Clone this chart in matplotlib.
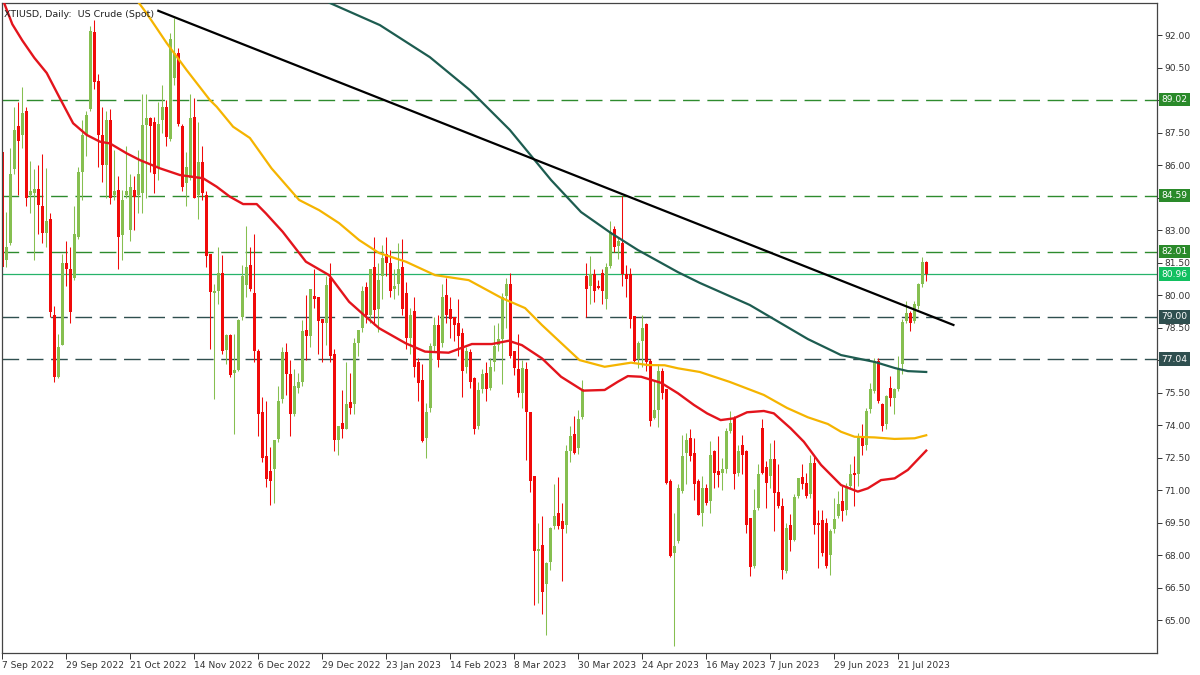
import numpy as np
import matplotlib
matplotlib.use("Agg")
import matplotlib.pyplot as plt
import matplotlib.transforms as mtransforms

# daily candles, XTIUSD, 7 Sep 2022 .. 1 Aug 2023
opens = [86.6, 81.6, 82.4, 85.8, 87.8, 87.4, 88.5, 84.6, 84.7, 84.9,
         84.1, 82.85, 83.5, 79.1, 76.2, 77.7, 81.5, 81.2, 80.8, 82.7,
         85.7, 87.4, 88.6, 92.15, 89.9, 87.4, 86.0, 88.1, 84.6, 84.85,
         82.75, 84.6, 83.0, 84.85, 84.6, 84.7, 87.85, 88.15, 88.0, 85.85,
         88.1, 88.7, 87.2, 90.0, 91.15, 87.8, 85.15, 85.4, 88.2, 84.6,
         86.15, 84.6, 81.9, 80.1, 80.2, 81.0, 77.45, 78.15, 76.4, 76.55,
         79.0, 80.45, 81.4, 80.1, 77.4, 74.6, 72.55, 71.9, 71.97, 73.35,
         75.2, 77.35, 76.35, 74.5, 75.7, 75.97, 78.4, 78.1, 79.97, 79.9,
         78.9, 78.7, 80.8, 77.3, 73.3, 74.1, 73.8, 75.05, 74.97, 77.8,
         78.5, 80.35, 79.1, 81.3, 79.35, 80.9, 81.9, 81.5, 80.3, 80.5,
         81.3, 80.1, 78.0, 79.27, 76.9, 76.07, 73.4, 74.8, 77.65, 78.6,
         77.8, 80.0, 79.35, 79.0, 78.7, 78.27, 76.7, 77.35, 76.15, 73.96,
         75.65, 76.4, 75.7, 76.9, 77.7, 77.96, 79.96, 80.5, 77.4, 76.6,
         75.5, 76.6, 74.6, 71.65, 68.2, 68.46, 66.65, 67.7, 69.34, 69.95,
         69.57, 69.4, 72.8, 73.6, 72.95, 74.38, 80.88, 80.4, 80.96, 80.42,
         81.0, 79.8, 81.34, 83.03, 82.26, 82.4, 80.96, 80.96, 79.03, 77.03,
         77.9, 78.65, 76.96, 74.34, 74.7, 76.5, 75.65, 71.4, 68.1, 68.64,
         70.95, 72.7, 73.4, 72.7, 71.41, 69.95, 71.1, 70.5, 72.8, 71.87,
         71.8, 71.95, 73.72, 74.33, 71.8, 73.1, 72.8, 69.7, 67.49, 70.18,
         73.87, 72.06, 71.64, 72.45, 70.9, 70.26, 67.26, 69.41, 68.7, 70.72,
         71.6, 71.33, 70.8, 72.23, 69.5, 69.6, 69.5, 68.0, 69.2, 69.8,
         70.5, 70.1, 71.18, 71.77, 71.72, 73.49, 73.1, 74.72, 75.57, 76.95,
         74.95, 74.03, 75.72, 75.26, 75.65, 76.8, 78.8, 79.15, 78.8, 79.49,
         80.49, 81.52]
highs = [86.6, 83.85, 86.8, 88.7, 88.9, 89.6, 88.7, 86.2, 85.8, 86.0,
         86.5, 85.85, 83.8, 79.5, 78.2, 81.9, 82.5, 82.2, 84.1, 85.9,
         88.1, 88.5, 92.4, 92.7, 90.2, 88.7, 88.5, 88.6, 86.7, 85.5,
         84.85, 86.9, 85.6, 85.5, 86.7, 89.3, 89.3, 88.2, 88.2, 88.9,
         89.7, 89.0, 92.1, 92.8, 91.4, 87.9, 86.6, 89.3, 89.1, 88.0,
         86.9, 84.8, 81.9, 80.5, 82.2, 81.85, 78.2, 78.2, 78.2, 78.9,
         81.4, 83.2, 82.2, 82.8, 77.5, 75.3, 75.1, 72.97, 73.3, 75.8,
         77.6, 77.8, 77.0, 76.6, 76.4, 78.85, 80.0, 80.3, 81.2, 79.9,
         78.9, 80.9, 81.5, 77.5, 73.97, 75.6, 76.9, 76.4, 78.0, 78.4,
         80.4, 80.6, 81.2, 82.7, 81.5, 82.3, 82.7, 82.1, 81.2, 82.4,
         82.6, 80.6, 79.4, 79.9, 77.1, 76.8, 75.0, 77.8, 79.0, 79.1,
         80.5, 80.8, 79.9, 79.0, 79.8, 78.5, 77.6, 77.5, 76.2, 76.0,
         76.6, 76.9, 77.1, 78.6, 78.7, 80.1, 80.8, 81.0, 77.4, 78.2,
         77.0, 76.9, 74.6, 71.65, 69.5, 69.8, 67.7, 69.3, 71.3, 71.6,
         70.4, 73.1, 73.96, 74.4, 74.7, 76.1, 81.5, 81.8, 81.2, 80.7,
         81.2, 81.5, 83.4, 83.2, 82.7, 84.57, 81.4, 81.26, 79.03, 77.9,
         79.1, 78.7, 77.03, 76.1, 76.8, 76.65, 75.65, 71.5, 69.95, 71.26,
         73.56, 73.64, 73.8, 73.41, 71.49, 71.64, 71.26, 73.26, 72.87, 73.49,
         72.5, 73.87, 74.67, 74.41, 73.1, 73.56, 72.87, 69.7, 71.03, 72.18,
         74.3, 72.33, 73.18, 73.33, 72.18, 70.64, 69.49, 69.9, 70.8, 71.56,
         72.18, 71.8, 72.64, 72.57, 70.1, 70.1, 69.7, 69.2, 70.65, 70.95,
         71.18, 71.34, 72.18, 72.57, 73.64, 74.03, 74.8, 75.95, 77.1, 77.1,
         75.03, 75.41, 76.26, 75.72, 77.18, 78.88, 79.72, 79.26, 79.72, 80.57,
         81.77, 81.57]
lows = [81.3, 81.3, 82.3, 85.6, 84.6, 86.8, 84.1, 83.8, 81.6, 82.8,
        82.4, 82.2, 79.0, 76.0, 76.15, 77.7, 80.4, 78.7, 80.7, 82.6,
        84.4, 86.4, 88.5, 89.5, 85.9, 85.2, 84.5, 84.2, 84.4, 81.2,
        81.6, 84.5, 82.5, 83.0, 83.8, 83.8, 84.5, 85.7, 84.7, 85.3,
        87.5, 86.9, 87.1, 89.7, 87.8, 84.8, 84.1, 85.3, 84.5, 83.5,
        84.4, 81.3, 77.5, 75.2, 79.6, 77.3, 76.8, 76.2, 73.6, 76.5,
        78.85, 79.9, 80.2, 76.9, 73.5, 72.3, 71.15, 70.3, 70.4, 73.2,
        75.0, 75.4, 73.5, 74.4, 75.5, 75.8, 77.0, 77.6, 79.4, 77.3,
        76.9, 77.7, 76.9, 72.8, 72.6, 73.4, 73.8, 74.5, 74.5, 77.2,
        78.3, 78.7, 78.7, 78.6, 78.3, 79.8, 80.9, 79.9, 79.8, 80.0,
        79.1, 77.5, 77.3, 76.2, 75.1, 73.2, 72.5, 74.6, 77.4, 76.7,
        77.6, 78.7, 78.0, 77.9, 77.2, 75.3, 76.4, 75.7, 73.6, 73.8,
        75.5, 75.1, 75.6, 76.5, 77.4, 75.9, 78.5, 77.1, 76.3, 75.3,
        74.8, 72.4, 70.9, 65.7, 65.8, 65.3, 64.3, 67.3, 69.2, 69.2,
        66.8, 69.0, 72.3, 72.65, 72.65, 74.26, 79.0, 79.6, 79.7, 80.26,
        79.6, 79.34, 81.26, 82.0, 81.65, 80.4, 79.9, 78.5, 76.9, 76.65,
        76.7, 76.5, 73.96, 74.3, 73.9, 75.2, 71.26, 67.9, 63.8, 68.56,
        70.87, 71.26, 72.33, 70.56, 69.87, 69.33, 70.33, 69.95, 71.1, 71.13,
        71.0, 71.8, 73.64, 71.03, 71.64, 71.72, 69.03, 67.03, 67.41, 70.1,
        71.72, 70.18, 71.1, 69.1, 70.18, 66.9, 67.18, 68.18, 68.64, 70.64,
        71.03, 70.64, 70.64, 68.95, 67.4, 67.97, 67.4, 67.1, 69.03, 69.72,
        69.57, 69.87, 71.1, 70.26, 71.18, 72.64, 72.87, 74.57, 75.49, 75.03,
        73.72, 73.8, 74.87, 74.49, 75.57, 76.34, 78.72, 78.34, 78.72, 79.34,
        80.38, 80.65]
closes = [81.3, 82.2, 85.6, 87.6, 87.1, 88.4, 84.5, 84.8, 84.9, 84.15,
          82.85, 83.4, 79.2, 76.2, 77.6, 81.5, 81.2, 79.2, 82.8, 85.7,
          87.4, 88.3, 92.2, 89.85, 87.4, 86.0, 88.1, 84.5, 84.8, 82.7,
          84.4, 84.8, 85.0, 84.54, 85.6, 87.85, 88.15, 87.8, 85.6, 87.9,
          88.7, 87.3, 91.8, 91.15, 87.9, 85.0, 85.9, 88.15, 84.5, 86.15,
          84.7, 81.8, 80.15, 80.2, 81.0, 77.4, 78.15, 76.3, 76.55, 78.85,
          80.9, 81.3, 80.3, 77.4, 74.5, 72.5, 71.5, 71.4, 73.3, 75.1,
          77.35, 76.35, 74.5, 75.8, 75.97, 78.35, 78.1, 80.3, 79.8, 78.8,
          78.7, 80.46, 77.2, 73.3, 73.97, 73.8, 74.97, 74.8, 77.8, 78.4,
          80.2, 79.1, 81.2, 79.3, 80.7, 81.7, 81.5, 80.2, 80.4, 81.2,
          79.35, 78.0, 79.1, 76.7, 75.96, 73.27, 74.6, 77.65, 78.6, 77.0,
          79.9, 79.1, 78.9, 78.6, 78.1, 76.5, 77.4, 76.0, 73.8, 75.6,
          76.35, 75.65, 76.7, 77.65, 77.96, 79.9, 80.5, 77.2, 76.65, 75.5,
          76.65, 74.6, 71.4, 68.2, 68.3, 66.3, 67.65, 69.26, 69.8, 69.34,
          69.2, 72.8, 73.5, 72.7, 74.26, 75.65, 80.26, 80.96, 80.2, 80.34,
          80.2, 81.3, 82.9, 82.2, 82.5, 80.96, 80.73, 78.9, 76.96, 77.8,
          78.5, 76.9, 74.2, 74.7, 76.5, 75.5, 71.34, 67.96, 68.4, 71.1,
          72.56, 73.33, 72.56, 71.26, 69.87, 71.1, 70.41, 72.6, 71.8, 71.7,
          71.95, 73.72, 74.1, 71.72, 72.8, 72.64, 69.41, 67.45, 70.06, 71.72,
          71.8, 71.33, 72.45, 70.87, 70.26, 67.33, 69.26, 68.7, 70.67, 71.56,
          71.26, 70.72, 72.26, 69.4, 69.4, 68.1, 67.5, 69.1, 69.65, 70.34,
          70.03, 71.18, 71.72, 71.68, 73.41, 73.03, 74.64, 75.65, 76.95, 75.1,
          73.95, 75.34, 75.26, 75.65, 76.57, 78.75, 79.15, 78.72, 79.57, 80.49,
          81.52, 80.95]

date_labels = ["7 Sep 2022", "29 Sep 2022", "21 Oct 2022", "14 Nov 2022",
               "6 Dec 2022", "29 Dec 2022", "23 Jan 2023", "14 Feb 2023",
               "8 Mar 2023", "30 Mar 2023", "24 Apr 2023", "16 May 2023",
               "7 Jun 2023", "29 Jun 2023", "21 Jul 2023"]

# moving averages (bar index, value)
ma_red_x = [0.2, 2.5, 5.0, 8.0, 11.1, 14.4, 17.7, 21.1, 24.4, 26.9, 31.1,
            34.4, 39.4, 44.4, 50.2, 53.6, 56.9, 60.2, 63.6, 65.9, 70.1, 75.9,
            81.7, 86.7, 90.9, 94.2, 100.9, 105.7, 111.6, 117.4, 122.4, 126.6,
            129.9, 134.9, 139.7, 145.2, 150.6, 153.9, 156.4, 159.7, 164.7,
            168.9, 172.9, 176.2, 179.6, 182.9, 186.2, 190.4, 192.9, 197.1,
            200.4, 204.7, 209.7, 213.9, 216.4, 219.7, 223.1, 226.4, 231]
ma_red_y = [93.6, 92.5, 91.75, 90.95, 90.25, 89.08, 87.93, 87.39, 87.08,
            87.0, 86.54, 86.23, 85.85, 85.54, 85.39, 85.0, 84.54, 84.2, 84.2,
            83.77, 82.92, 81.54, 80.92, 79.69, 79.0, 78.47, 77.77, 77.39, 77.34,
            77.74, 77.74, 77.89, 77.69, 77.08, 76.23, 75.59, 75.62, 76.0, 76.26,
            76.23, 75.95, 75.47, 74.93, 74.54, 74.23, 74.31, 74.59, 74.65, 74.54,
            73.85, 73.23, 72.16, 71.23, 70.93, 71.08, 71.46, 71.54, 71.93, 72.82]
ma_orange_x = [33.6, 36.1, 41.1, 46.1, 51.9, 53.6, 57.7, 61.9, 67.3, 74.2, 79.2,
               84.2, 89.2, 94.2, 100.9, 108.2, 116.6, 124.9, 130.7, 134.9, 138.9,
               144.3, 150.6, 157.2, 161.4, 165.6, 168.9, 174.4, 181.9, 190.4,
               196.2, 201.4, 206.4, 209.7, 213.1, 218.1, 223.1, 228.1, 231]
ma_orange_y = [93.62, 93.0, 91.63, 90.38, 89.0, 88.69, 87.77, 87.25, 85.85, 84.39,
               83.92, 83.32, 82.54, 81.94, 81.54, 80.92, 80.69, 79.86, 79.4, 78.62,
               77.93, 77.0, 76.69, 76.88, 76.77, 76.76, 76.62, 76.45, 75.99, 75.39,
               74.79, 74.36, 74.05, 73.69, 73.46, 73.43, 73.36, 73.39, 73.53]
ma_green_x = [81.9, 94.4, 106.9, 116.9, 126.9, 137.2, 144.7, 152.2, 158.9, 168.9,
              174.4, 186.9, 201.4, 209.7, 218.2, 223.2, 226.4, 231]
ma_green_y = [93.48, 92.46, 90.98, 89.46, 87.62, 85.31, 83.83, 82.86, 82.08, 81.06,
              80.56, 79.54, 77.97, 77.23, 76.91, 76.63, 76.49, 76.45]

trend_x = [39.0, 237.8]
trend_y = [93.12, 78.62]

levels_up = [89.02, 84.59, 82.01]
levels_down = [79.00, 77.04]
last_price = 80.96

GREEN = "#86bf50"
RED = "#f00a0a"

fig = plt.figure(figsize=(12, 6.75), dpi=100)
ax = fig.add_axes([2 / 1200, 22 / 675, 1155 / 1200, 650 / 675])

o = np.array(opens)
h = np.array(highs)
l = np.array(lows)
c = np.array(closes)
x = np.arange(len(o))
up = c >= o
cols = np.where(up, GREEN, RED)

# levels
for lv in levels_up:
    ax.axhline(lv, color="#2e8b2e", lw=1.0, dashes=(12, 5.5), zorder=1)
for lv in levels_down:
    ax.axhline(lv, color="#2f4f4f", lw=1.0, dashes=(12, 5.5), zorder=1)
ax.axhline(last_price, color="#26b36a", lw=0.9, zorder=1)

# candles
ax.vlines(x, l, h, colors=cols, lw=0.75, zorder=2)
body_lo = np.minimum(o, c)
body_h = np.maximum(np.abs(c - o), 0.05)
ax.bar(x, body_h, width=0.8, bottom=body_lo, color=cols, linewidth=0, zorder=2)

# moving averages + trendline
ax.plot(ma_green_x, ma_green_y, color="#1d5c50", lw=1.6, zorder=3)
ax.plot(ma_orange_x, ma_orange_y, color="#f5b400", lw=1.6, zorder=3)
ax.plot(ma_red_x, ma_red_y, color="#e3141c", lw=1.7, zorder=3)
ax.plot(trend_x, trend_y, color="black", lw=1.6, zorder=3)

ax.set_xlim(-0.08, 288.7)
ax.set_ylim(63.48, 93.48)

# y axis on the right
yt = np.arange(65.0, 92.01, 1.5)
ax.yaxis.tick_right()
ax.set_yticks(yt)
ax.set_yticklabels(["" if round(v, 2) in (77.0, 84.5, 89.0) else "%.2f" % v for v in yt])
ax.tick_params(axis="y", direction="out", length=3.5, width=0.7, colors="#333333",
               labelsize=6.6, pad=1.8)

ax.set_xticks(np.arange(0, 16 * len(date_labels), 16))
ax.set_xticklabels(date_labels, ha="left")
ax.tick_params(axis="x", direction="out", length=4, width=0.7, colors="#333333",
               labelsize=6.6, pad=1.5)

for sp in ax.spines.values():
    sp.set_color("#444444")
    sp.set_linewidth(0.9)

# price boxes on the axis
trans = mtransforms.blended_transform_factory(ax.transAxes, ax.transData)
boxes = [(lv, "#2a8a2a") for lv in levels_up] + [(last_price, "#12c060")] + \
        [(lv, "#2f4f4f") for lv in levels_down]
for lv, col in boxes:
    ax.text(1.004, lv, "%.2f" % lv, transform=trans, ha="left", va="center",
            fontsize=6.6, color="white", clip_on=False, zorder=5,
            bbox=dict(boxstyle="square,pad=0.25", fc=col, ec="none"))

ax.text(0.002, 0.983, "XTIUSD, Daily:  US Crude (Spot)", transform=ax.transAxes,
        ha="left", va="center", fontsize=6.8, color="#222222", zorder=6)

fig.savefig("out.png", dpi=100)
